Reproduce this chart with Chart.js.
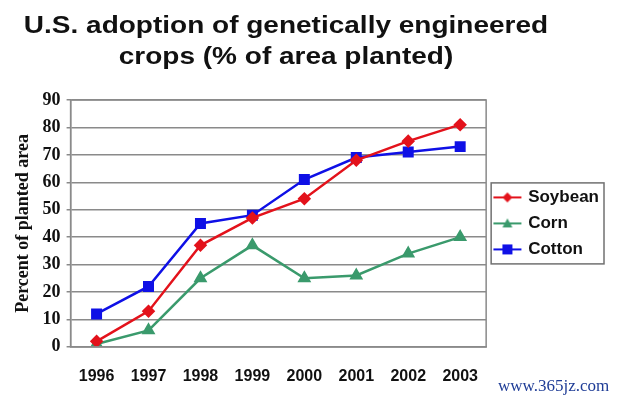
<!DOCTYPE html>
<html>
<head>
<meta charset="utf-8">
<script src="https://cdn.jsdelivr.net/npm/chart.js@4.4.0/dist/chart.umd.min.js"></script>
<style>
  html, body { margin: 0; padding: 0; background: #fff; }
  #wrap { width: 620px; height: 400px; }
</style>
</head>
<body>
<div id="wrap"><canvas id="myChart"></canvas></div>
<script>
// Chart data
const years = ['1996', '1997', '1998', '1999', '2000', '2001', '2002', '2003'];
const soybean = [2, 13, 37, 47, 54, 68, 75, 81];
const corn = [1, 6, 25, 37, 25, 26, 34, 40];
const cotton = [12, 22, 45, 48, 61, 69, 71, 73];
const yTicks = [0, 10, 20, 30, 40, 50, 60, 70, 80, 90];

const titleLines = ['U.S. adoption of genetically engineered', 'crops (% of area planted)'];
const watermark = 'www.365jz.com';

// Colors
const red = '#e3121b';
const green = '#3a9a6c';
const blue = '#0f10e6';
const gridGray = '#8a8a8a';

// Make a small line + marker picture for the legend
function makeLegendIcon(color, style) {
  const c = document.createElement('canvas');
  c.width = 30;
  c.height = 14;
  const g = c.getContext('2d');
  g.strokeStyle = color;
  g.fillStyle = color;
  g.lineWidth = 2;
  g.beginPath();
  g.moveTo(1, 7);
  g.lineTo(29, 7);
  g.stroke();
  g.beginPath();
  if (style === 'diamond') {
    g.moveTo(15, 2); g.lineTo(20, 7); g.lineTo(15, 12); g.lineTo(10, 7);
  } else if (style === 'triangle') {
    g.moveTo(15, 2); g.lineTo(20, 11); g.lineTo(10, 11);
  } else {
    g.rect(10, 2, 10, 10);
  }
  g.closePath();
  g.fill();
  return c;
}

const legendIcons = [
  makeLegendIcon(red, 'diamond'),
  makeLegendIcon(green, 'triangle'),
  makeLegendIcon(blue, 'square')
];

// Title, plot frame, legend border and watermark
const extras = {
  id: 'extras',
  afterDraw(chart) {
    const ctx = chart.ctx;
    const area = chart.chartArea;
    ctx.save();

    // frame around the plot area
    ctx.strokeStyle = gridGray;
    ctx.lineWidth = 1.5;
    ctx.strokeRect(area.left, area.top, area.right - area.left, area.bottom - area.top);

    // box around the legend
    const boxes = chart.legend.legendHitBoxes;
    if (boxes && boxes.length) {
      let l = Infinity, t = Infinity, r = -Infinity, b = -Infinity;
      boxes.forEach(function (h) {
        l = Math.min(l, h.left);
        t = Math.min(t, h.top);
        r = Math.max(r, h.left + h.width);
        b = Math.max(b, h.top + h.height);
      });
      ctx.strokeStyle = '#707070';
      ctx.lineWidth = 1.5;
      ctx.strokeRect(l - 4, t - 6, r - l + 9, b - t + 12);
    }

    // two-line title, a little squat like the original
    ctx.fillStyle = '#111';
    ctx.textAlign = 'center';
    ctx.textBaseline = 'alphabetic';
    ctx.font = 'bold 28px "Liberation Sans", Arial, sans-serif';
    [[titleLines[0], 33], [titleLines[1], 64]].forEach(function (line) {
      ctx.save();
      ctx.translate(286, line[1]);
      ctx.scale(1, 0.88);
      ctx.fillText(line[0], 0, 0);
      ctx.restore();
    });

    // watermark
    ctx.fillStyle = '#1e3c96';
    ctx.textAlign = 'left';
    ctx.font = '17px "Liberation Serif", "Times New Roman", serif';
    ctx.fillText(watermark, 498, 391);

    ctx.restore();
  }
};

const ctx = document.getElementById('myChart').getContext('2d');

const myChart = new Chart(ctx, {
  type: 'line',
  data: {
    labels: years,
    datasets: [
      {
        label: 'Soybean',
        data: soybean,
        borderColor: red,
        backgroundColor: red,
        borderWidth: 2.5,
        pointStyle: 'rectRot',
        pointRadius: 5,
        tension: 0
      },
      {
        label: 'Corn',
        data: corn,
        borderColor: green,
        backgroundColor: green,
        borderWidth: 2.5,
        pointStyle: 'triangle',
        pointRadius: 5.5,
        tension: 0
      },
      {
        label: 'Cotton',
        data: cotton,
        borderColor: blue,
        backgroundColor: blue,
        borderWidth: 2.5,
        pointStyle: 'rect',
        pointRadius: 6,
        tension: 0
      }
    ]
  },
  options: {
    responsive: true,
    maintainAspectRatio: false,
    animation: false,
    layout: {
      padding: { top: 100, right: 11, bottom: 2, left: 13 }
    },
    plugins: {
      title: { display: false },
      tooltip: { enabled: false },
      legend: {
        position: 'right',
        fullSize: false,
        labels: {
          usePointStyle: true,
          pointStyleWidth: 24.5,
          padding: 9,
          color: '#111',
          font: { family: '"Liberation Sans", Arial, sans-serif', size: 17, weight: 'bold' },
          generateLabels(chart) {
            const items = Chart.defaults.plugins.legend.labels.generateLabels(chart);
            items.forEach(function (item, i) {
              item.pointStyle = legendIcons[i];
            });
            return items;
          }
        }
      }
    },
    scales: {
      x: {
        offset: true,
        grid: { display: false },
        border: { display: true, color: gridGray, width: 1.5 },
        ticks: {
          color: '#111',
          padding: 12,
          maxRotation: 0,
          font: { family: '"Liberation Sans", Arial, sans-serif', size: 16, weight: 'bold' }
        }
      },
      y: {
        min: 0,
        max: 90,
        afterBuildTicks(scale) {
          scale.ticks = yTicks.map(function (v) { return { value: v }; });
        },
        grid: {
          color: gridGray,
          lineWidth: 1.5,
          tickLength: 4
        },
        border: { display: true, color: gridGray, width: 1.5 },
        ticks: {
          color: '#111',
          padding: 6,
          font: { family: '"Liberation Serif", "Times New Roman", serif', size: 18, weight: 'bold' }
        },
        title: {
          display: true,
          text: 'Percent of planted area',
          color: '#111',
          padding: { top: 0, bottom: 2 },
          font: { family: '"Liberation Serif", "Times New Roman", serif', size: 18, weight: 'bold' }
        }
      }
    }
  },
  plugins: [extras]
});
</script>
</body>
</html>
